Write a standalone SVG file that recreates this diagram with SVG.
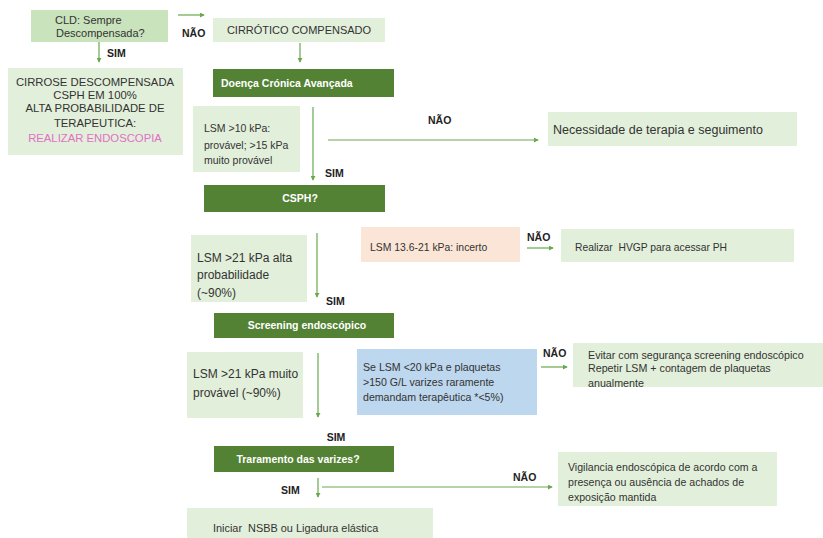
<svg xmlns="http://www.w3.org/2000/svg" width="823" height="538" viewBox="0 0 823 538">
<style>
  .lg { fill: #e2efda; }
  .mg { fill: #c9e3bc; }
  .dg { fill: #548235; }
  .pe { fill: #fbe5d6; }
  .bl { fill: #bdd7ee; }
  text { font-family: "Liberation Sans", Arial, sans-serif; fill: #333333; white-space: pre; }
  .w { fill: #ffffff; font-weight: bold; font-size: 10.5px; }
  .lab { font-weight: bold; font-size: 10.5px; fill: #222222; }
  .c { text-anchor: middle; }
  .con line { stroke: #6aa84f; stroke-width: 1.2; fill: none; marker-end: url(#ah); }
</style>
<defs>
  <marker id="ah" viewBox="0 0 6 6" refX="5" refY="3" markerWidth="5" markerHeight="5" markerUnits="userSpaceOnUse" orient="auto">
    <path d="M0,0 L6,3 L0,6 Z" fill="#6aa84f"/>
  </marker>
</defs>
<rect width="823" height="538" fill="#ffffff"/>

<g id="cld">
  <rect class="mg" x="31" y="10" width="137" height="32"/>
  <text x="55" y="24" font-size="11">CLD: Sempre</text>
  <text x="56" y="37" font-size="11">Descompensada?</text>
</g>
<g id="cirrotico">
  <rect class="lg" x="213" y="18" width="172" height="24"/>
  <text class="c" x="299" y="34" font-size="11">CIRRÓTICO COMPENSADO</text>
</g>
<g id="cirrose">
  <rect class="lg" x="8" y="68" width="175" height="87"/>
  <text class="c" x="95" y="86" font-size="11.3">CIRROSE DESCOMPENSADA</text>
  <text class="c" x="95" y="99" font-size="11.3">CSPH EM 100%</text>
  <text class="c" x="95" y="112" font-size="11.3">ALTA PROBABILIDADE DE</text>
  <text class="c" x="95" y="127" font-size="11.3">TERAPEUTICA:</text>
  <text class="c" x="95" y="142" font-size="11.3" style="fill:#e36fc7">REALIZAR ENDOSCOPIA</text>
</g>
<g id="doenca">
  <rect class="dg" x="213" y="69" width="181" height="28"/>
  <text class="w" x="221" y="87">Doença Crónica Avançada</text>
</g>
<g id="lsm10">
  <rect class="lg" x="193" y="106" width="107" height="66"/>
  <text x="204" y="132" font-size="10.5">LSM &gt;10 kPa:</text>
  <text x="204" y="149" font-size="10.5">provável; &gt;15 kPa</text>
  <text x="204" y="164" font-size="10.5">muito provável</text>
</g>
<g id="necessidade">
  <rect class="lg" x="548" y="112" width="249" height="34"/>
  <text x="553" y="134" font-size="12.5">Necessidade de terapia e seguimento</text>
</g>
<g id="csph">
  <rect class="dg" x="204" y="185" width="181" height="27"/>
  <text class="w c" x="300" y="202">CSPH?</text>
</g>
<g id="lsm21alta">
  <rect class="lg" x="191" y="235" width="116" height="67"/>
  <text x="197" y="262" font-size="12">LSM &gt;21 kPa alta</text>
  <text x="197" y="279" font-size="12">probabilidade</text>
  <text x="197" y="297" font-size="12">(~90%)</text>
</g>
<g id="incerto">
  <rect class="pe" x="361" y="227" width="159" height="35"/>
  <text x="370" y="251" font-size="10.4">LSM 13.6-21 kPa: incerto</text>
</g>
<g id="hvgp">
  <rect class="lg" x="561" y="229" width="233" height="33"/>
  <text x="575" y="251" font-size="10.3" xml:space="preserve">Realizar  HVGP para acessar PH</text>
</g>
<g id="screening">
  <rect class="dg" x="214" y="313" width="180" height="25"/>
  <text class="w c" x="307" y="329">Screening endoscópico</text>
</g>
<g id="lsm21muito">
  <rect class="lg" x="187" y="352" width="116" height="66"/>
  <text x="193" y="378" font-size="12">LSM &gt;21 kPa muito</text>
  <text x="193" y="397" font-size="12">provável (~90%)</text>
</g>
<g id="plaquetas">
  <rect class="bl" x="357" y="349" width="180" height="66"/>
  <text x="363" y="371" font-size="10.6">Se LSM &lt;20 kPa e plaquetas</text>
  <text x="363" y="386" font-size="10.6">&gt;150 G/L varizes raramente</text>
  <text x="363" y="401" font-size="10.6">demandam terapêutica *&lt;5%)</text>
</g>
<g id="evitar">
  <rect class="lg" x="573" y="343" width="250" height="44"/>
  <text x="588" y="359" font-size="10.7">Evitar com segurança screening endoscópico</text>
  <text x="588" y="372" font-size="10.7">Repetir LSM + contagem de plaquetas</text>
  <text x="588" y="387" font-size="10.7">anualmente</text>
</g>
<g id="tratamento">
  <rect class="dg" x="214" y="446" width="180" height="26"/>
  <text class="w c" x="298" y="463">Traramento das varizes?</text>
</g>
<g id="vigilancia">
  <rect class="lg" x="558" y="452" width="219" height="54"/>
  <text x="568" y="471" font-size="10.6">Vigilancia endoscópica de acordo com a</text>
  <text x="568" y="486" font-size="10.6">presença ou ausência de achados de</text>
  <text x="568" y="501" font-size="10.6">exposição mantida</text>
</g>
<g id="iniciar">
  <rect class="lg" x="187" y="508" width="246" height="30"/>
  <text x="213" y="532" font-size="10.9" xml:space="preserve">Iniciar  NSBB ou Ligadura elástica</text>
</g>

<g id="connectors" class="con">
  <line x1="178" y1="15" x2="204" y2="15"/>
  <line x1="99" y1="42" x2="99" y2="62"/>
  <line x1="300" y1="43" x2="300" y2="62"/>
  <line x1="313" y1="107" x2="313" y2="180"/>
  <line x1="328" y1="140" x2="538" y2="140"/>
  <line x1="317" y1="233" x2="317" y2="297"/>
  <line x1="527" y1="248" x2="553" y2="248"/>
  <line x1="318" y1="353" x2="318" y2="417"/>
  <line x1="541" y1="367" x2="567" y2="367"/>
  <line x1="318" y1="478" x2="318" y2="497"/>
  <line x1="322" y1="487" x2="552" y2="487"/>
</g>

<g id="labels">
  <text class="lab" x="182" y="37">NÃO</text>
  <text class="lab" x="107" y="57">SIM</text>
  <text class="lab" x="325" y="177">SIM</text>
  <text class="lab" x="428" y="124">NÃO</text>
  <text class="lab" x="326" y="305">SIM</text>
  <text class="lab" x="527" y="241">NÃO</text>
  <text class="lab" x="543" y="357">NÃO</text>
  <text class="lab c" x="336" y="441">SIM</text>
  <text class="lab" x="281" y="494">SIM</text>
  <text class="lab" x="513" y="481">NÃO</text>
</g>
</svg>
